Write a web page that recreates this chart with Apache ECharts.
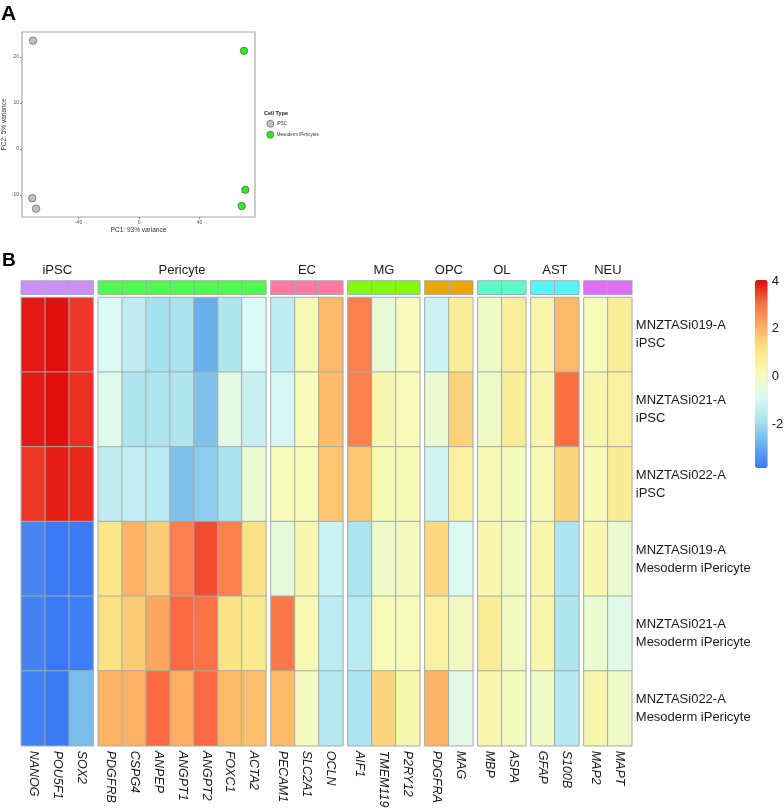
<!DOCTYPE html>
<html>
<head>
<meta charset="utf-8">
<script src="https://cdn.jsdelivr.net/npm/echarts@6/dist/echarts.min.js"></script>
<style>
  html, body { margin: 0; padding: 0; background: #fff; }
  #main { width: 784px; height: 808px; }
</style>
</head>
<body>
<div id="main"></div>
<script>
// ---------- panel A : PCA ----------
var pcaIpsc     = [[-70.1, 23.5], [-70.6, -10.7], [-68.1, -13.0]];
var pcaPericyte = [[69.4, 21.3], [70.3, -8.9], [67.9, -12.4]];
var pcaXTicks = [-40, 0, 40];
var pcaYTicks = [-10, 0, 10, 20];

// ---------- panel B : heatmap ----------
var genes = ['NANOG', 'POU5F1', 'SOX2',
             'PDGFRB', 'CSPG4', 'ANPEP', 'ANGPT1', 'ANGPT2', 'FOXC1', 'ACTA2',
             'PECAM1', 'SLC2A1', 'OCLN',
             'AIF1', 'TMEM119', 'P2RY12',
             'PDGFRA', 'MAG',
             'MBP', 'ASPA',
             'GFAP', 'S100B',
             'MAP2', 'MAPT'];
var groups      = ['iPSC', 'Pericyte', 'EC', 'MG', 'OPC', 'OL', 'AST', 'NEU'];
var groupSizes  = [3, 7, 3, 3, 2, 2, 2, 2];
var groupColors = ['#cc8ff7', '#52fa52', '#ff7ba0', '#85f90a', '#e8a70a', '#5ff8ca', '#5af4f8', '#e06df5'];
var samples = ['MNZTASi019-A\niPSC', 'MNZTASi021-A\niPSC', 'MNZTASi022-A\niPSC',
               'MNZTASi019-A\nMesoderm iPericyte', 'MNZTASi021-A\nMesoderm iPericyte', 'MNZTASi022-A\nMesoderm iPericyte'];

// z-scores per sample, same order as genes
var z019iPSC = [3.9, 4.0, 3.6,   -0.9, -1.4, -1.9, -1.85, -2.9, -1.7, -0.9,   -1.45, 0.2, 1.9,   2.8, -0.45, 0.1,   -1.2, 0.8,   -0.15, 0.7,   0.35, 1.9,   0.05, 0.8];
var z021iPSC = [3.9, 4.0, 3.7,   -0.7, -1.75, -1.75, -1.7, -2.5, -0.6, -1.25, -1.0, 0.1, 1.85,   2.8, 0.25, 0.1,    -0.3, 1.45,  -0.15, 0.8,   0.35, 3.05,  0.35, 0.6];
var z022iPSC = [3.6, 3.85, 3.75, -1.4, -1.35, -1.55, -2.5, -2.3, -1.85, -0.3, 0.1, 0.1, 1.7,     1.7, 0.15, 0.15,   -1.1, 0.6,   0.15, 0.0,    0.15, 1.4,   0.15, 0.85];
var z019Peri = [-3.6, -3.85, -3.8, 1.1, 2.0, 1.6, 2.8, 3.4, 2.8, 1.2,        -0.5, 0.25, -1.2,  -1.8, -0.2, 0.0,   1.35, -0.85, 0.3, -0.05,   0.35, -1.8,  0.3, -0.3];
var z021Peri = [-3.65, -3.85, -3.75, 1.2, 1.6, 2.2, 3.1, 3.0, 1.15, 0.95,    2.9, 0.2, -1.5,    -1.55, 0.1, 0.1,   0.6, -0.05,  0.8, -0.05,   0.35, -1.7,  -0.3, -0.7];
var z022Peri = [-3.7, -3.85, -2.6, 2.0, 2.05, 3.1, 2.1, 3.1, 1.9, 1.8,       1.9, -0.05, -1.6,  -1.8, 1.4, 0.25,   2.0, -0.65,  0.3, 0.0,     -0.15, -1.6, 0.35, -0.15];
var zscores = [z019iPSC, z021iPSC, z022iPSC, z019Peri, z021Peri, z022Peri];

var scaleMin = -3.85, scaleMax = 4.05;
var scaleTicks = [-2, 0, 2, 4];
var scaleColors = ['#3b78f4', '#6ab0ea', '#a8e2ee', '#dcf9f5', '#f7fab8', '#fbe88a', '#fdb064', '#fb6f45', '#e00a0a'];

// ---------- layout ----------
var colW = 23.95, gapW = 5.1, x0 = 21.3;
var heatTop = 297.5, heatH = 448.2;
var annoTop = 281, annoH = 13.3;
var cellBorder = '#a2acae';
var txt = '#1a1a1a';

var grid = [{ left: 22, top: 32, width: 233, height: 185, show: true, borderColor: '#a8a8a8', borderWidth: 1.2, outerBoundsMode: 'none' }];
var xAxis = [{
  gridIndex: 0, type: 'value', min: -77.4, max: 76.7,
  name: 'PC1: 93% variance', nameLocation: 'middle', nameGap: 10,
  nameTextStyle: { fontSize: 6.5, color: '#333' },
  axisLine: { show: false, onZero: false }, splitLine: { show: false },
  axisTick: { customValues: pcaXTicks, length: 2, lineStyle: { color: '#888' } },
  axisLabel: { customValues: pcaXTicks, fontSize: 5, color: '#555', margin: 3 }
}];
var yAxis = [{
  gridIndex: 0, type: 'value', min: -14.8, max: 25.4,
  name: 'PC2: 5% variance', nameLocation: 'middle', nameGap: 7.5,
  nameTextStyle: { fontSize: 6.5, color: '#333' },
  axisLine: { show: false, onZero: false }, splitLine: { show: false },
  axisTick: { customValues: pcaYTicks, length: 2, lineStyle: { color: '#888' } },
  axisLabel: { customValues: pcaYTicks, fontSize: 5, color: '#555', margin: 3 }
}];
var series = [
  { type: 'scatter', name: 'iPSC', xAxisIndex: 0, yAxisIndex: 0, data: pcaIpsc, symbolSize: 7.5,
    itemStyle: { color: '#bcc3c3', borderColor: '#4a4a4a', borderWidth: 0.6, opacity: 1 } },
  { type: 'scatter', name: 'Mesoderm iPericytes', xAxisIndex: 0, yAxisIndex: 0, data: pcaPericyte, symbolSize: 7.5,
    itemStyle: { color: '#33e62b', borderColor: '#4a4a4a', borderWidth: 0.6, opacity: 1 } }
];

var mainSeriesIdx = [];
var annoSeries = [];
var offset = 0, left = x0;
groups.forEach(function (g, gi) {
  var n = groupSizes[gi];
  var cols = genes.slice(offset, offset + n);
  var w = n * colW;

  // main heatmap block
  var gIdx = grid.length;
  grid.push({ left: left, top: heatTop, width: w, height: heatH, outerBoundsMode: 'none' });
  xAxis.push({
    gridIndex: gIdx, type: 'category', data: cols, position: 'bottom',
    axisLine: { show: false }, axisTick: { show: false },
    axisLabel: { interval: 0, rotate: -90, fontStyle: 'italic', fontSize: 12.5, color: txt, margin: 5 }
  });
  var isLast = gi === groups.length - 1;
  yAxis.push({
    gridIndex: gIdx, type: 'category', data: samples, inverse: true, position: 'right',
    axisLine: { show: false }, axisTick: { show: false },
    axisLabel: { show: isLast, fontSize: 13, lineHeight: 18, color: txt, margin: 4, align: 'left' }
  });
  var data = [];
  for (var i = 0; i < samples.length; i++) {
    for (var j = 0; j < n; j++) data.push([j, i, zscores[i][offset + j]]);
  }
  mainSeriesIdx.push(series.length);
  series.push({
    type: 'heatmap', xAxisIndex: gIdx, yAxisIndex: gIdx, data: data,
    itemStyle: { borderColor: cellBorder, borderWidth: 1 }
  });

  // annotation bar above the block
  var aIdx = grid.length;
  grid.push({ left: left, top: annoTop, width: w, height: annoH, outerBoundsMode: 'none' });
  xAxis.push({
    gridIndex: aIdx, type: 'category', data: cols, position: 'top',
    name: g, nameLocation: 'middle', nameGap: 4,
    nameTextStyle: { fontSize: 13, color: txt },
    axisLine: { show: false }, axisTick: { show: false }, axisLabel: { show: false }
  });
  yAxis.push({ gridIndex: aIdx, type: 'category', data: [g], show: false });
  annoSeries.push({
    type: 'heatmap', xAxisIndex: aIdx, yAxisIndex: aIdx,
    data: cols.map(function (c, k) {
      return { value: [k, 0, 1], itemStyle: { color: groupColors[gi] } };
    }),
    itemStyle: { borderColor: cellBorder, borderWidth: 1 }
  });

  offset += n;
  left += w + gapW;
});
series = series.concat(annoSeries);

// colour scale axis
var cbIdx = grid.length;
grid.push({ left: 755, top: 280, width: 12.7, height: 188, outerBoundsMode: 'none' });
xAxis.push({ gridIndex: cbIdx, type: 'value', show: false });
yAxis.push({
  gridIndex: cbIdx, type: 'value', min: scaleMin, max: scaleMax, position: 'right',
  axisLine: { show: false }, axisTick: { show: false }, splitLine: { show: false },
  axisLabel: { customValues: scaleTicks, fontSize: 13, color: txt, margin: 4 }
});

var option = {
  animation: false,
  backgroundColor: '#fff',
  textStyle: { fontFamily: 'Liberation Sans' },
  title: [
    { text: 'A', left: 1, top: 4, padding: 0, textStyle: { fontSize: 21, fontWeight: 'bold', color: '#000' } },
    { text: 'B', left: 2, top: 251, padding: 0, textStyle: { fontSize: 19, fontWeight: 'bold', color: '#000' } },
    { text: 'Cell Type', left: 264, top: 110, padding: 0, textStyle: { fontSize: 5.5, fontWeight: 'bold', color: '#222' } }
  ],
  legend: {
    data: ['iPSC', 'Mesoderm iPericytes'], orient: 'vertical', left: 266.5, top: 120, padding: 0,
    icon: 'circle', itemWidth: 7, itemHeight: 7, itemGap: 3.3,
    itemStyle: { borderWidth: 0.6, borderColor: '#4a4a4a' },
    textStyle: { fontSize: 4.5, color: '#333', padding: [0, 0, 0, -2] }
  },
  visualMap: {
    type: 'continuous', min: scaleMin, max: scaleMax, seriesIndex: mainSeriesIdx,
    left: 755, top: 280, itemWidth: 12.7, itemHeight: 188, padding: 0,
    calculable: false, hoverLink: false,
    inRange: { color: scaleColors }
  },
  grid: grid,
  xAxis: xAxis,
  yAxis: yAxis,
  series: series
};

var chart = echarts.init(document.getElementById('main'), null, { renderer: 'canvas' });
chart.setOption(option);
</script>
</body>
</html>
